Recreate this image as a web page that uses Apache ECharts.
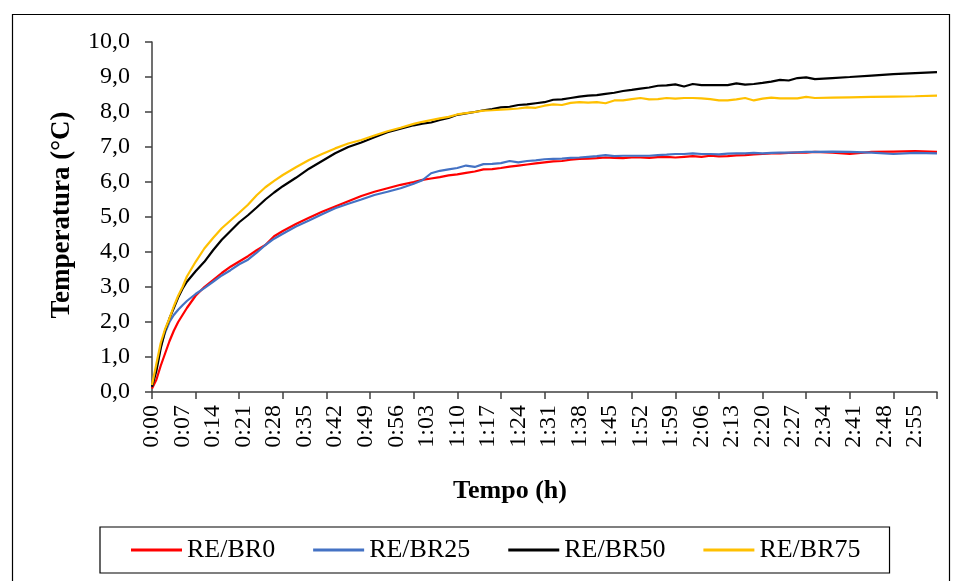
<!DOCTYPE html>
<html>
<head>
<meta charset="utf-8">
<script src="https://cdn.jsdelivr.net/npm/echarts@6/dist/echarts.min.js"></script>
<style>html,body{margin:0;padding:0;background:#fff}#c{width:958px;height:581px}</style>
</head>
<body>
<div id="c"></div>
<script>
// time in minutes since start
var times = [0,1,2,3,4,5,6,7,8,10,12,14,16,18,20,22,24,26,28,30,33,36,39,42,45,48,51,54,57,60,62,64,66,68,70,72,74,76,78,80,82,84,86,88,90,92,94,96,98,100,102,104,106,108,110,112,114,116,118,120,122,124,126,128,130,132,134,136,138,140,142,144,146,148,150,152,156,160,165,170,175,180];
var seriesNames = ['RE/BR0','RE/BR25','RE/BR50','RE/BR75'];
var reBR0 = [0.1,0.35,0.75,1.1,1.45,1.75,2.0,2.2,2.4,2.75,3.0,3.2,3.4,3.58,3.73,3.88,4.05,4.2,4.45,4.6,4.8,4.98,5.15,5.3,5.45,5.6,5.72,5.82,5.92,6.0,6.06,6.1,6.14,6.19,6.22,6.26,6.3,6.36,6.37,6.4,6.44,6.47,6.5,6.53,6.56,6.59,6.6,6.64,6.66,6.67,6.68,6.7,6.69,6.68,6.7,6.7,6.69,6.71,6.72,6.7,6.72,6.74,6.72,6.75,6.73,6.74,6.76,6.77,6.79,6.8,6.82,6.82,6.83,6.84,6.84,6.86,6.84,6.8,6.86,6.87,6.88,6.86];
var reBR25 = [0.15,0.7,1.3,1.7,2.0,2.2,2.35,2.48,2.6,2.8,2.97,3.15,3.33,3.48,3.65,3.78,3.98,4.2,4.38,4.52,4.73,4.9,5.08,5.25,5.38,5.5,5.63,5.72,5.82,5.95,6.05,6.25,6.32,6.36,6.4,6.47,6.43,6.51,6.52,6.54,6.6,6.56,6.6,6.62,6.65,6.66,6.67,6.69,6.7,6.72,6.74,6.77,6.74,6.75,6.75,6.75,6.75,6.77,6.78,6.8,6.8,6.82,6.8,6.8,6.79,6.81,6.82,6.82,6.83,6.82,6.83,6.84,6.84,6.85,6.86,6.86,6.87,6.86,6.84,6.8,6.83,6.82];
var reBR50 = [0.15,0.6,1.25,1.75,2.1,2.4,2.7,2.95,3.15,3.45,3.72,4.05,4.35,4.6,4.85,5.05,5.27,5.5,5.7,5.88,6.12,6.38,6.6,6.82,7.0,7.13,7.28,7.42,7.52,7.62,7.67,7.7,7.77,7.83,7.92,7.96,8.0,8.05,8.08,8.13,8.15,8.2,8.22,8.25,8.28,8.35,8.36,8.4,8.44,8.47,8.48,8.52,8.55,8.6,8.63,8.67,8.7,8.75,8.76,8.79,8.73,8.8,8.77,8.77,8.77,8.77,8.82,8.78,8.8,8.83,8.87,8.92,8.9,8.97,8.99,8.94,8.97,9.0,9.04,9.08,9.11,9.14];
var reBR75 = [0.2,0.8,1.4,1.8,2.1,2.45,2.75,3.0,3.3,3.72,4.1,4.4,4.68,4.9,5.12,5.35,5.62,5.85,6.03,6.2,6.42,6.63,6.8,6.96,7.1,7.2,7.33,7.45,7.55,7.66,7.72,7.77,7.82,7.86,7.93,7.97,8.0,8.04,8.05,8.07,8.08,8.1,8.13,8.12,8.18,8.22,8.2,8.26,8.28,8.27,8.28,8.25,8.33,8.33,8.37,8.4,8.36,8.37,8.4,8.38,8.4,8.4,8.39,8.37,8.33,8.33,8.36,8.4,8.33,8.38,8.41,8.39,8.39,8.39,8.43,8.4,8.41,8.42,8.43,8.44,8.45,8.47];
var seriesColors = ['#FF0000','#4472C4','#000000','#FFC000'];
var xTitle = 'Tempo (h)';
var yTitle = 'Temperatura (\u00B0C)';

var FONT = '"Liberation Serif", "Times New Roman", serif';
function pairs(vals){ return times.map(function(t,i){ return [t, vals[i]]; }); }
var allVals = [reBR0, reBR25, reBR50, reBR75];
function fmtTime(m){ var h = Math.floor(m/60), mm = Math.round(m - h*60); return h + ':' + (mm<10?'0':'') + mm; }

var chart = echarts.init(document.getElementById('c'), null, {renderer:'canvas'});
var axisLineStyle = {color:'#404040', width:1.5};
chart.setOption({
  animation:false,
  backgroundColor:'#ffffff',
  grid:{left:152, top:42, right:21, bottom:189, containLabel:false},
  xAxis:[{
    type:'value', min:0, max:180, interval:10, position:'bottom',
    axisLine:{show:true, onZero:false, lineStyle:axisLineStyle},
    axisTick:{show:true, length:7, lineStyle:axisLineStyle},
    axisLabel:{show:false}, splitLine:{show:false}
  },{
    type:'value', min:0, max:180, interval:7, position:'bottom',
    axisLine:{show:false}, axisTick:{show:false}, splitLine:{show:false},
    axisLabel:{show:true, rotate:90, margin:13, color:'#000', fontFamily:FONT, fontSize:24,
      showMaxLabel:false,
      formatter:function(v){ return (Math.abs(v/7 - Math.round(v/7))<1e-6) ? fmtTime(v) : ''; }}
  }],
  yAxis:{
    type:'value', min:0, max:10, interval:1,
    axisLine:{show:true, lineStyle:axisLineStyle},
    axisTick:{show:true, length:7, lineStyle:axisLineStyle},
    splitLine:{show:false},
    axisLabel:{margin:22, color:'#000', fontFamily:FONT, fontSize:24,
      formatter:function(v){ return v.toFixed(1).replace('.', ','); }}
  },
  legend:{
    left:100, top:527,
    padding:[10,29,10,31], itemGap:38,
    borderColor:'#000', borderWidth:1.2,
    icon:'rect', itemWidth:51, itemHeight:3,
    textStyle:{fontFamily:FONT, fontSize:26, color:'#000'},
    data:seriesNames
  },
  series: seriesNames.map(function(n,i){
    return {name:n, type:'line', xAxisIndex:0, data:pairs(allVals[i]), showSymbol:false, symbol:'none',
      lineStyle:{color:seriesColors[i], width:2.2}, itemStyle:{color:seriesColors[i]}};
  }),
  graphic:[
    {type:'rect', left:10, top:12, shape:{width:937, height:580}, style:{fill:null, stroke:'#000', lineWidth:1.2}, silent:true},
    {type:'text', x:62, y:215, rotation:Math.PI/2, style:{text:yTitle, fontFamily:FONT, fontWeight:'bold', fontSize:27, fill:'#000', align:'center', verticalAlign:'middle'}},
    {type:'text', x:510, y:491, style:{text:xTitle, fontFamily:FONT, fontWeight:'bold', fontSize:26, fill:'#000', align:'center', verticalAlign:'middle'}}
  ]
});
</script>
</body>
</html>
